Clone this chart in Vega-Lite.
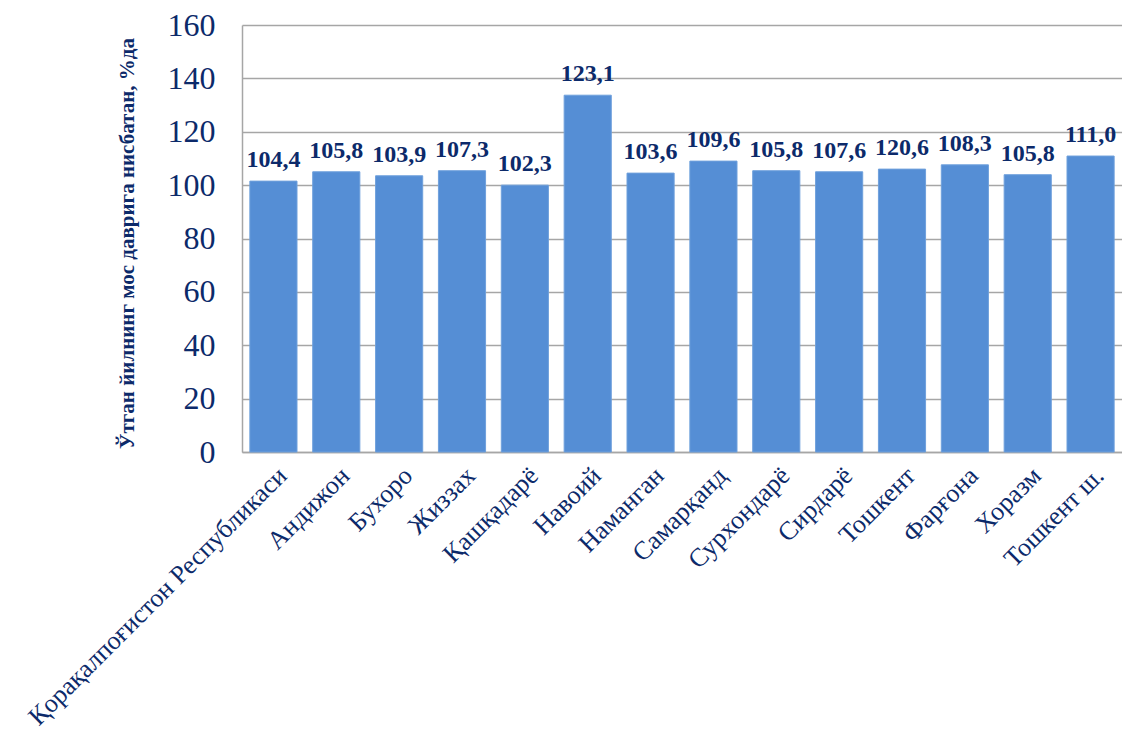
{
  "$schema": "https://vega.github.io/schema/vega-lite/v6.json",
  "autosize": {"type": "none"},
  "width": 880,
  "height": 427,
  "padding": {"left": 242, "top": 25, "right": 0, "bottom": 286},
  "background": "white",
  "config": {
    "view": {"stroke": null},
    "font": "Liberation Serif"
  },
  "data": {
    "values": [
      {"region": "Қорақалпоғистон Республикаси", "value": 101.5, "label": "104,4"},
      {"region": "Андижон", "value": 105.0, "label": "105,8"},
      {"region": "Бухоро", "value": 103.5, "label": "103,9"},
      {"region": "Жиззах", "value": 105.4, "label": "107,3"},
      {"region": "Қашқадарё", "value": 100.0, "label": "102,3"},
      {"region": "Навоий", "value": 133.7, "label": "123,1"},
      {"region": "Наманган", "value": 104.5, "label": "103,6"},
      {"region": "Самарқанд", "value": 109.0, "label": "109,6"},
      {"region": "Сурхондарё", "value": 105.4, "label": "105,8"},
      {"region": "Сирдарё", "value": 105.0, "label": "107,6"},
      {"region": "Тошкент", "value": 106.0, "label": "120,6"},
      {"region": "Фарғона", "value": 107.6, "label": "108,3"},
      {"region": "Хоразм", "value": 103.9, "label": "105,8"},
      {"region": "Тошкент ш.", "value": 110.9, "label": "111,0"}
    ]
  },
  "encoding": {
    "x": {
      "field": "region",
      "type": "nominal",
      "sort": null,
      "scale": {"paddingInner": 0.25, "paddingOuter": 0.125},
      "axis": {
        "title": null,
        "labelAngle": -45,
        "labelAlign": "right",
        "labelBaseline": "top",
        "labelFont": "Liberation Serif",
        "labelFontSize": 26,
        "labelColor": "#0C2A6A",
        "labelPadding": 10,
        "labelLimit": 600,
        "ticks": false,
        "domainColor": "#A6A6A6",
        "domainWidth": 1.5
      }
    },
    "y": {
      "field": "value",
      "type": "quantitative",
      "scale": {"domain": [0, 160], "nice": false},
      "axis": {
        "title": "Ўтган йилнинг мос даврига нисбатан, %да",
        "titleFont": "Liberation Serif",
        "titleFontSize": 21,
        "titleFontWeight": "bold",
        "titleColor": "#0C2A6A",
        "titleAngle": -90,
        "titleX": -115,
        "titleY": 218,
        "titleAlign": "center",
        "titleBaseline": "middle",
        "values": [0, 20, 40, 60, 80, 100, 120, 140, 160],
        "labelFont": "Liberation Serif",
        "labelFontSize": 32,
        "labelColor": "#0C2A6A",
        "labelPadding": 27,
        "ticks": false,
        "grid": true,
        "gridColor": "#A6A6A6",
        "gridWidth": 1.5,
        "domainColor": "#A6A6A6",
        "domainWidth": 1.5
      }
    }
  },
  "layer": [
    {
      "mark": {"type": "bar", "color": "#558ED5", "stroke": "#6FA0DC", "strokeWidth": 1}
    },
    {
      "mark": {
        "type": "text",
        "font": "Liberation Serif",
        "fontSize": 24,
        "fontWeight": "bold",
        "color": "#0C2A6A",
        "baseline": "middle",
        "dy": -21
      },
      "encoding": {"text": {"field": "label"}}
    }
  ]
}
